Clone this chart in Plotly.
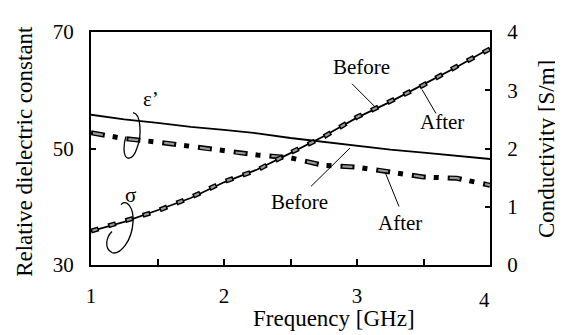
import plotly.graph_objects as go

# ---------------- data ----------------
freq_ghz = [1.0, 1.25, 1.5, 1.75, 2.0, 2.25, 2.5, 2.75, 3.0, 3.25, 3.5, 3.75, 4.0]
eps_before = [55.8, 55.0, 54.4, 53.7, 53.2, 52.6, 51.8, 51.1, 50.4, 49.8, 49.3, 48.7, 48.2]
eps_after = [52.7, 51.7, 51.1, 50.4, 49.5, 48.9, 48.4, 47.1, 46.8, 46.0, 45.1, 44.9, 43.7]
sigma_before = [0.58, 0.74, 0.94, 1.15, 1.42, 1.64, 1.92, 2.21, 2.53, 2.80, 3.10, 3.40, 3.72]
sigma_after = [0.58, 0.75, 0.93, 1.16, 1.43, 1.63, 1.93, 2.20, 2.54, 2.81, 3.09, 3.41, 3.71]

x_tickvals = [1, 1.5, 2, 2.5, 3, 3.5, 4]
x_ticktext = ["1", "", "2", "", "3", "", ""]
y_tickvals = [30, 50, 70]
y2_tickvals = [0, 1, 2, 3, 4]

# ---------------- layout geometry ----------------
W, H = 563, 335
OFF = 8                      # page body margin
PX0, PX1, PY0, PY1 = 91, 490, 22, 265   # plot area on screen
PW, PH = PX1 - PX0, PY1 - PY0
L, T = PX0 - OFF, PY0 - OFF
R, B = W - L - PW, H - T - PH
FONT = "Times New Roman, Liberation Serif, DejaVu Serif, serif"


def pp(xp, yp):
    """screen pixel -> paper coords (decorations only)"""
    return (xp - PX0) / PW, (PY1 - yp) / PH


def path(cmds):
    out = []
    for c in cmds:
        if isinstance(c, str):
            out.append(c)
        else:
            x, y = pp(*c)
            out.append(f"{x:.4f},{y:.4f}")
    return " ".join(out)


fig = go.Figure()

# sigma before (solid)
fig.add_trace(go.Scatter(x=freq_ghz, y=sigma_before, yaxis="y2", mode="lines",
                         line=dict(color="black", width=1.8), showlegend=False))
# sigma after (outlined grey dashes)
fig.add_trace(go.Scatter(x=freq_ghz, y=sigma_after, yaxis="y2", mode="lines",
                         line=dict(color="black", width=5, dash="8px,10px"), showlegend=False))
fig.add_trace(go.Scatter(x=freq_ghz, y=sigma_after, yaxis="y2", mode="lines",
                         line=dict(color="#9a9a9a", width=2.2, dash="0px,1.5px,5px,11.5px"),
                         showlegend=False))
# eps before (solid)
fig.add_trace(go.Scatter(x=freq_ghz, y=eps_before, mode="lines",
                         line=dict(color="black", width=1.8), showlegend=False))
# eps after (dash-dot, outlined grey dashes)
fig.add_trace(go.Scatter(x=freq_ghz, y=eps_after, mode="lines",
                         line=dict(color="black", width=5, dash="14px,8px,5px,9px"), showlegend=False))
fig.add_trace(go.Scatter(x=freq_ghz, y=eps_after, mode="lines",
                         line=dict(color="#9a9a9a", width=2.2, dash="0px,2px,10px,24px"),
                         showlegend=False))

axis_common = dict(showgrid=False, zeroline=False, showline=True, linecolor="black",
                   linewidth=2, ticks="inside", tickcolor="black", tickwidth=1.5,
                   tickfont=dict(family=FONT, size=21, color="black"))

fig.update_layout(
    width=W, height=H,
    margin=dict(l=L, r=R, t=T, b=B, pad=0),
    paper_bgcolor="white", plot_bgcolor="white",
    font=dict(family=FONT, color="black"),
    xaxis=dict(range=[1, 4], tickvals=x_tickvals, ticktext=x_ticktext, ticklen=6,
               mirror=True, ticklabelstandoff=11, **axis_common),
    yaxis=dict(range=[30, 70], tickvals=y_tickvals, ticklen=5, mirror=True,
               ticklabelstandoff=11, **axis_common),
    yaxis2=dict(range=[0, 4], tickvals=y2_tickvals, overlaying="y", side="right",
                ticklen=5, ticklabelstandoff=11, **axis_common),
)

ann = []


def text(t, xp, yp, size=21, angle=0):
    x, y = pp(xp, yp)
    ann.append(dict(text=t, x=x, y=y, xref="paper", yref="paper", showarrow=False,
                    xanchor="center", yanchor="middle", textangle=angle,
                    font=dict(family=FONT, size=size, color="black")))


text("Before", 361, 59)
text("After", 442, 116)
text("Before", 299, 199)
text("After", 400, 221)
text("ε’", 151, 92)
text("σ", 130, 192)
text("4", 484, 302)
text("Frequency [GHz]", 334, 321, size=23)
text("Relative dielectric constant", 25, 147, size=23, angle=-90)
text("Conductivity [S/m]", 547, 144, size=23, angle=-90)
fig.update_layout(annotations=ann)

shapes = []
for (x0, y0, x1, y1) in [(352, 76, 375, 100), (422, 82, 436, 107),
                         (350, 143, 311, 183), (385, 168, 399, 204)]:
    a = pp(x0, y0)
    b = pp(x1, y1)
    shapes.append(dict(type="line", xref="paper", yref="paper", x0=a[0], y0=a[1],
                       x1=b[0], y1=b[1], line=dict(color="black", width=1)))

curl_eps = path(["M", (133, 106), "C", (141, 107), (142, 130), (137, 143),
                 "C", (133, 156), (124, 158), (124, 144),
                 "C", (124, 138), (125, 134), (126, 131)])
curl_sig = path(["M", (121, 202), "C", (126, 196), (134, 204), (133, 220),
                 "C", (132, 240), (120, 255), (112, 252),
                 "C", (104, 248), (106, 236), (112, 230)])
for p in (curl_eps, curl_sig):
    shapes.append(dict(type="path", xref="paper", yref="paper", path=p,
                       line=dict(color="black", width=1.3)))
fig.update_layout(shapes=shapes)

fig.write_html("out.html")
